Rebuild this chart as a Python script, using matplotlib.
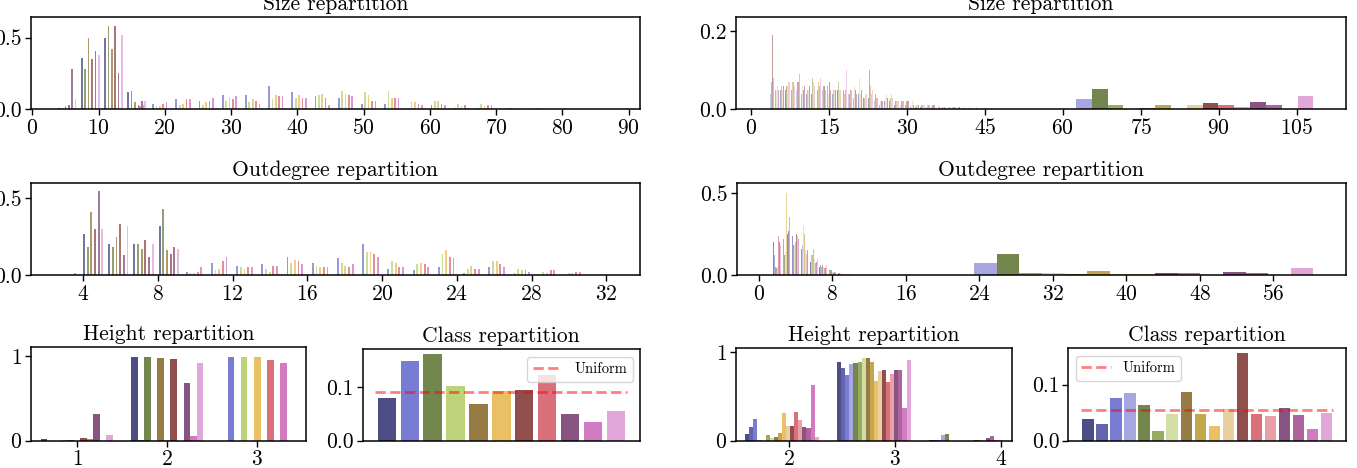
import numpy as np
import matplotlib
matplotlib.use("Agg")
import matplotlib.pyplot as plt

plt.rcParams['font.family'] = 'serif'
plt.rcParams['font.serif'] = ['cmr10', 'DejaVu Serif']
plt.rcParams['mathtext.fontset'] = 'cm'
plt.rcParams['axes.formatter.use_mathtext'] = True
plt.rcParams['axes.unicode_minus'] = False

# ---------------- data: left dataset (11 classes) ----------------
size_l_start, size_l_width = 0.0, 3.5
size_l = [
    [0, .01, .36, .50, .12],
    [0, 0, 0, 0, .005, .04, .07, .06, .10, .10, .16, .12, .09, .08, .04, .04, .01, .03, .01, .01, .005],
    [0, 0, .28, .58, .13],
    [0, 0, 0, 0, 0, .02, .03, .03, .06, .05, .07, .08, .10, .13, .12, .13, .05, .06, .04, .04, .01, .005],
    [0, .02, .50, .42, .05],
    [0, 0, 0, 0, 0, .02, .04, .05, .08, .07, .10, .10, .11, .11, .10, .08, .05, .06, .02, .02, .01],
    [0, .03, .35, .58, .03],
    [0, 0, 0, 0, .02, .04, .07, .06, .07, .06, .09, .08, .08, .10, .06, .08, .04, .04, .03, .03, .01, .01],
    [0, .28, .41, .25, .06],
    [0, 0, 0, 0, .03, .05, .07, .08, .09, .04, .09, .08, .03, .09, .06, .08, .03, .03, .01, .03, .01, .01],
    [0, .07, .38, .52, .06],
]

outdeg_l_start, outdeg_l_width = 1.15, 1.35
outdeg_l = [
    [0, 0, .27, .20, .20, .32],
    [0, 0, 0, 0, 0, 0, .02, .08, .06, .07, .12, .08, .11, .20, .04, .03, .05, .01, .05, .01],
    [0, 0, .18, .18, .20, .43],
    [0, 0, 0, 0, 0, 0, .01, .03, .05, .04, .08, .06, .08, .15, .09, .07, .14, .04, .09, .04, .02, .01],
    [0, 0, .41, .25, .17, .16],
    [0, 0, 0, 0, 0, 0, .01, .04, .04, .02, .10, .05, .06, .15, .08, .08, .16, .06, .09, .03, .01, .01],
    [0, 0, .30, .33, .23, .14],
    [0, 0, 0, 0, 0, 0, .02, .09, .05, .06, .09, .05, .05, .14, .05, .07, .12, .04, .07, .03, .03, .02],
    [0, 0, .55, .13, .12, .18],
    [0, .01, 0, 0, 0, 0, .05, .12, .05, .06, .07, .05, .07, .12, .05, .05, .11, .04, .05, .02, .03, .02],
    [0, 0, .30, .32, .20, .17],
]

height_l_edges = [0.5, 1.5, 2.5, 3.5]
height_l = [
    [.02, .98, 0], [0, .01, .98], [0, .99, 0], [.01, 0, .98], [.01, .97, 0], [0, .01, .98],
    [.03, .96, 0], [.02, 0, .95], [.32, .68, 0], [0, .05, .92], [.07, .92, 0],
]

class_l = [.080, .148, .162, .101, .069, .092, .094, .122, .049, .035, .055]

# ---------------- data: right dataset (18 classes) ----------------
# sizes 4..45 (percent)
size_r_thin_start = 3.5
size_r_thin = [
    [13, 4, 3, 5, 6, 5, 4, 5, 4, 6, 5, 4, 4, 5, 4, 3, 4, 3, 3, 3, 2, 1, 2, 2, 1, 1, 1, 1, 1, .5, .5, .5, .5, .5],
    [6, 3, 5, 4, 7, 6, 5, 4, 6, 5, 7, 5, 4, 6, 3, 4, 3, 4, 2, 3, 2, 1, 2, 1, 1, 1, 1, .5, .5, .5, .5, .5],
    [5, 5, 4, 6, 5, 8, 4, 5, 7, 4, 6, 6, 5, 15, 4, 4, 3, 3, 3, 2, 2, 1, 2, 2, 1, 1, 1, 1, .5, .5, .5, .5, .5],
    [4, 4, 5, 5, 7, 5, 7, 6, 4, 6, 5, 7, 4, 6, 3, 4, 5, 3, 2, 4, 2, 1, 3, 2, 2, 1, 1, 1, 1, .5, .5, .5, .5, .5, .5, .5],
    [3, 5, 4, 6, 5, 6, 5, 6, 6, 5, 6, 5, 5, 6, 5, 4, 11, 4, 3, 10, 3, 1, 3, 2, 2, 1, 1, 1, 1, 1, .5, .5, .5, .5],
    [5, 4, 6, 4, 6, 7, 5, 5, 8, 5, 4, 6, 5, 7, 4, 3, 9, 4, 3, 8, 3, 1, 3, 3, 2, 2, 1, 1, 1, 1, 1, .5, .5, .5, .5],
    [4, 5, 3, 5, 4, 5, 6, 7, 5, 6, 5, 4, 6, 5, 5, 3, 6, 8, 4, 7, 3, 2, 3, 3, 2, 2, 1, 1, 1, 1, 1, .5, .5, .5, .5, .5],
    [7, 3, 5, 6, 6, 7, 5, 6, 6, 5, 6, 5, 4, 6, 6, 4, 5, 4, 5, 7, 4, 2, 6, 3, 2, 2, 2, 1, 1, 1, 1, 1, .5, .5, .5, .5, .5, .5],
    [5, 4, 4, 5, 7, 6, 5, 8, 6, 7, 5, 6, 6, 5, 4, 5, 6, 5, 4, 6, 4, 2, 4, 3, 2, 2, 2, 2, 1, 1, 1, 1, .5, .5, .5, .5, .5, .5],
    [6, 5, 5, 6, 5, 6, 7, 6, 7, 6, 8, 5, 5, 5, 4, 5, 4, 5, 4, 5, 3, 2, 3, 4, 3, 2, 2, 1, 1, 1, 1, 1, 1, .5, .5, .5, .5, .5, .5],
    [5, 6, 5, 7, 6, 6, 6, 5, 10, 7, 5, 6, 5, 6, 5, 7, 5, 4, 5, 4, 3, 2, 4, 3, 3, 2, 2, 2, 1, 1, 1, 1, 1, .5, .5, .5, .5, .5, .5, .5],
    [19, 4, 5, 6, 6, 7, 5, 7, 6, 13, 6, 7, 6, 5, 6, 5, 5, 4, 4, 4, 3, 2, 3, 3, 2, 2, 2, 1, 1, 1, 1, 1, .5, .5, .5, .5, .5],
    [7, 5, 6, 6, 7, 6, 5, 8, 7, 6, 9, 6, 7, 6, 5, 5, 4, 4, 4, 4, 3, 2, 3, 3, 2, 2, 2, 2, 1, 1, 1, 1, 1, .5, .5, .5, .5, .5],
    [6, 6, 5, 7, 5, 7, 6, 8, 6, 9, 7, 8, 6, 5, 6, 6, 5, 5, 4, 4, 3, 2, 3, 3, 2, 2, 1, 1, 1, 1, 1, 1, .5, .5, .5, .5, .5, .5, .5],
    [5, 4, 6, 5, 6, 5, 7, 6, 7, 7, 6, 10, 5, 6, 7, 5, 4, 5, 4, 5, 3, 2, 3, 3, 2, 2, 2, 1, 1, 1, 1, 1, .5, .5, .5, .5, .5],
    [4, 5, 6, 9, 7, 6, 6, 6, 5, 6, 6, 5, 10, 7, 6, 5, 4, 6, 4, 4, 3, 2, 3, 3, 2, 2, 2, 1, 1, 1, 1, 1, .5, .5, .5, .5],
    [8, 6, 5, 6, 9, 9, 5, 21, 6, 7, 5, 6, 5, 8, 5, 5, 5, 4, 4, 4, 3, 2, 3, 3, 2, 2, 2, 1, 1, 1, 1, 1, .5, .5, .5, .5, .5, .5],
    [9, 5, 6, 7, 6, 7, 7, 9, 12, 8, 10, 7, 6, 8, 10, 7, 5, 5, 4, 5, 3, 2, 3, 3, 2, 2, 2, 1, 1, 1, 1, 1, .5, .5, .5, .5, .5, .5, .5, .5],
]
size_r_big_edges = [46.5, 115.1]
size_r_big = [.001, .001, .001, .026, .051, .012, .002, .003, .012, 0, .012, .015, .012, .007, .019, .010, 0, .035]

outdeg_r_thin_start = 1.5
outdeg_r_thin = [
    [.20, .28, .20, .14, .08, .05, .03, .01, 0],
    [.15, .26, .24, .16, .10, .05, .02, .01, 0],
    [.12, .22, .27, .18, .11, .06, .03, .01, 0],
    [.10, .20, .22, .18, .12, .06, .03, .01, .005],
    [.05, .12, .18, .20, .23, .08, .03, .01, 0],
    [.08, .15, .20, .35, .12, .05, .02, .01, 0],
    [.06, .14, .18, .30, .18, .07, .03, .01, .005],
    [.04, .10, .14, .46, .15, .06, .03, .01, 0],
    [.07, .17, .20, .25, .16, .07, .04, .01, .005],
    [.05, .50, .18, .12, .08, .04, .02, .005, 0],
    [.10, .30, .24, .15, .10, .05, .03, .01, 0],
    [.26, .25, .25, .12, .06, .03, .01, 0, 0],
    [.24, .26, .22, .14, .07, .04, .02, .005, 0],
    [.22, .28, .24, .13, .07, .03, .01, 0, 0],
    [.20, .27, .23, .15, .07, .04, .02, .01, 0],
    [.16, .30, .22, .15, .08, .04, .02, .01, 0],
    [.14, .35, .22, .15, .08, .04, .02, .005, 0],
    [.18, .26, .20, .13, .10, .06, .03, .01, 0],
]
outdeg_r_big_edges = [10.5, 65.9]
outdeg_r_big = [0, 0, 0, .075, .125, .012, .010, .005, .024, .005, .005, .010, .010, 0, .020, .012, 0, .040]

height_r_edges = [1.5, 2.3667, 3.2333, 4.1]
height_r = [
    [.08, .89, .005], [.16, .82, .005], [.25, .74, .005], [.01, .87, .07], [0, .88, .08], [.07, .89, 0],
    [.03, .93, 0], [.04, .93, 0], [.09, .89, 0], [.31, .68, 0], [.17, .79, 0], [.17, .80, .01],
    [.32, .66, .01], [.23, .75, 0], [.15, .80, .03], [.14, .80, .05], [.63, .37, .01], [.04, .91, .01],
]

class_r = [.038, .029, .077, .085, .063, .018, .048, .086, .047, .026, .056, .157,
           .047, .044, .058, .045, .021, .050]

# ticks
size_l_ticks = [0, 10, 20, 30, 40, 50, 60, 70, 80, 90]
outdeg_l_ticks = [4, 8, 12, 16, 20, 24, 28, 32]
size_r_ticks = [0, 15, 30, 45, 60, 75, 90, 105]
outdeg_r_ticks = [0, 8, 16, 24, 32, 40, 48, 56]

# ---------------- drawing ----------------
W, H = 1357, 468
FS = 15.5
fig = plt.figure(figsize=(W / 100, H / 100), dpi=100)


def box(l, t, r, b):
    return [l / W, 1 - b / H, (r - l) / W, (b - t) / H]


def pad(rows):
    n = max(len(r) for r in rows)
    return np.array([list(r) + [0] * (n - len(r)) for r in rows], dtype=float)


def grouped(ax, edges, rows, colors, alpha):
    edges = np.asarray(edges, dtype=float)
    rows = np.asarray(rows, dtype=float)
    n = rows.shape[0]
    lefts = edges[:-1]
    widths = np.diff(edges)
    bw = 0.8 * widths / n
    for i in range(n):
        ax.bar(lefts + 0.1 * widths + i * bw, rows[i], width=bw, align='edge',
               color=colors[i], alpha=alpha, linewidth=0)


def style(ax, title):
    ax.set_title(title, fontsize=FS, pad=5)
    for s in ax.spines.values():
        s.set_linewidth(1.1)
    ax.tick_params(labelsize=FS, length=4, width=1, pad=2.5)


cols_l = plt.get_cmap('tab20b')(np.linspace(0, 1, len(class_l)))
cols_r = plt.get_cmap('tab20b')(np.linspace(0, 1, len(class_r)))

# left size
ax = fig.add_axes(box(31, 17.3, 640, 109.3))
sl = pad(size_l)
grouped(ax, size_l_start + size_l_width * np.arange(sl.shape[1] + 1), sl, cols_l, 0.7)
ax.set_xlim(-0.2, 91.7)
ax.set_ylim(0, 0.642)
ax.set_xticks(size_l_ticks)
ax.set_yticks([0.0, 0.5])
ax.set_yticklabels(['0.0', '0.5'])
style(ax, 'Size repartition')

# left outdegree
ax = fig.add_axes(box(31, 183.3, 640, 275))
ol = pad(outdeg_l)
grouped(ax, outdeg_l_start + outdeg_l_width * np.arange(ol.shape[1] + 1), ol, cols_l, 0.7)
ax.set_xlim(1.2, 33.8)
ax.set_ylim(0, 0.598)
ax.set_xticks(outdeg_l_ticks)
ax.set_yticks([0.0, 0.5])
ax.set_yticklabels(['0.0', '0.5'])
style(ax, 'Outdegree repartition')

# left height
ax = fig.add_axes(box(31, 347.3, 306, 440.7))
grouped(ax, height_l_edges, height_l, cols_l, 0.9)
ax.set_xlim(0.49, 3.54)
ax.set_ylim(0, 1.10)
ax.set_xticks([1, 2, 3])
ax.set_yticks([0, 1])
style(ax, 'Height repartition')

# left class
ax = fig.add_axes(box(362.7, 349.3, 640, 440.7))
n = len(class_l)
ax.bar(np.arange(n), class_l, color=cols_l, alpha=0.9, width=0.8)
ax.plot([-0.5, n - 0.5], [1 / n, 1 / n], '--', color='red', alpha=0.5, lw=2, label='Uniform')
ax.set_xticks([])
ax.set_yticks([0.0, 0.1])
ax.set_yticklabels(['0.0', '0.1'])
ax.legend(loc='upper right', fontsize=10.5, handlelength=2)
style(ax, 'Class repartition')

# right size
ax = fig.add_axes(box(736, 17.3, 1346, 109.3))
sr = pad(size_r_thin) / 100
grouped(ax, size_r_thin_start + np.arange(sr.shape[1] + 1), sr, cols_r, 0.5)
grouped(ax, size_r_big_edges, np.array(size_r_big)[:, None], cols_r, 0.9)
ax.set_xlim(-2.9, 114.5)
ax.set_ylim(0, 0.235)
ax.set_xticks(size_r_ticks)
ax.set_yticks([0.0, 0.2])
ax.set_yticklabels(['0.0', '0.2'])
style(ax, 'Size repartition')

# right outdegree
ax = fig.add_axes(box(736.7, 183.3, 1346, 275))
orr = pad(outdeg_r_thin)
grouped(ax, outdeg_r_thin_start + np.arange(orr.shape[1] + 1), orr, cols_r, 0.6)
grouped(ax, outdeg_r_big_edges, np.array(outdeg_r_big)[:, None], cols_r, 0.9)
ax.set_xlim(-2.4, 63.9)
ax.set_ylim(0, 0.558)
ax.set_xticks(outdeg_r_ticks)
ax.set_yticks([0.0, 0.5])
ax.set_yticklabels(['0.0', '0.5'])
style(ax, 'Outdegree repartition')

# right height
ax = fig.add_axes(box(736, 348.3, 1011.7, 440.7))
grouped(ax, height_r_edges, height_r, cols_r, 0.9)
ax.set_xlim(1.5, 4.1)
ax.set_ylim(0, 1.045)
ax.set_xticks([2, 3, 4])
ax.set_yticks([0, 1])
style(ax, 'Height repartition')

# right class
ax = fig.add_axes(box(1068.3, 348.3, 1346, 440.7))
n = len(class_r)
ax.bar(np.arange(n), class_r, color=cols_r, alpha=0.9, width=0.8)
ax.plot([-0.5, n - 0.5], [1 / n, 1 / n], '--', color='red', alpha=0.5, lw=2, label='Uniform')
ax.set_xticks([])
ax.set_yticks([0.0, 0.1])
ax.set_yticklabels(['0.0', '0.1'])
ax.legend(loc='upper left', fontsize=10.5, handlelength=2)
style(ax, 'Class repartition')

fig.savefig('out.png', dpi=100)
